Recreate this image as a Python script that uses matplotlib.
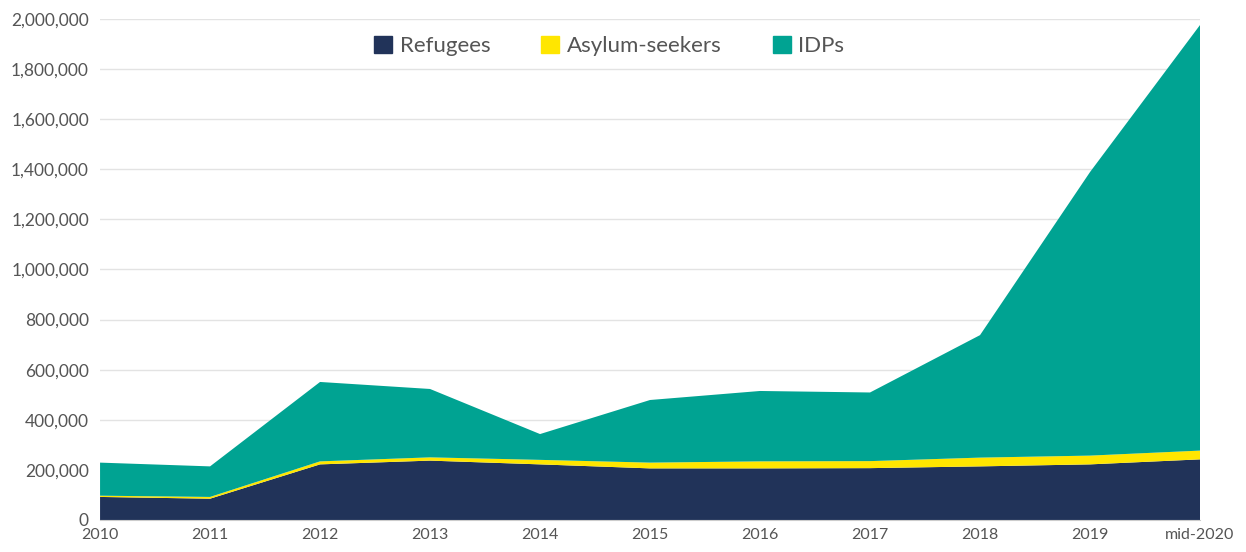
import matplotlib.pyplot as plt
from matplotlib.ticker import FuncFormatter
from matplotlib.patches import Patch

plt.rcParams['font.family'] = ['Lato', 'DejaVu Sans']

years = ['2010', '2011', '2012', '2013', '2014', '2015', '2016', '2017', '2018', '2019', 'mid-2020']
refugees = [92000, 85000, 222000, 237000, 222000, 206000, 206000, 207000, 214000, 222000, 242000]
asylum = [5000, 7000, 12000, 13000, 18000, 23000, 28000, 28000, 35000, 35000, 35000]
idps = [132000, 122000, 317000, 273000, 103000, 250000, 281000, 274000, 489000, 1132000, 1699000]

colors = ['#213359', '#ffe600', '#00a392']
names = ['Refugees', 'Asylum-seekers', 'IDPs']

fig = plt.figure(figsize=(12.46, 5.52), dpi=100)
ax = fig.add_axes([0.0803, 0.058, 0.8828, 0.9076])

x = list(range(len(years)))
ax.stackplot(x, refugees, asylum, idps, colors=colors, linewidth=0)

ax.set_xlim(0, len(years) - 1)
ax.set_ylim(0, 2000000)
ax.set_yticks(range(0, 2000001, 200000))
ax.yaxis.set_major_formatter(FuncFormatter(lambda v, p: f'{int(v):,}'))
ax.set_xticks(x)
ax.set_xticklabels(years)

ax.grid(axis='y', color='#e3e3e3', linewidth=1)
ax.set_axisbelow(True)
for s in ['top', 'right', 'left']:
    ax.spines[s].set_visible(False)
ax.spines['bottom'].set_color('#cccccc')
ax.tick_params(axis='both', length=0, colors='#555555')
ax.tick_params(axis='x', pad=6, labelsize=11.5)
ax.tick_params(axis='y', pad=8, labelsize=12.5)

handles = [Patch(color=c) for c in colors]
ax.legend(handles, names, loc='center', bbox_to_anchor=(0.463, 0.946), ncol=3,
          frameon=False, fontsize=16, handlelength=0.8, handleheight=0.8,
          columnspacing=2.3, handletextpad=0.35, labelcolor='#555555')

fig.savefig('out.png', dpi=100)
